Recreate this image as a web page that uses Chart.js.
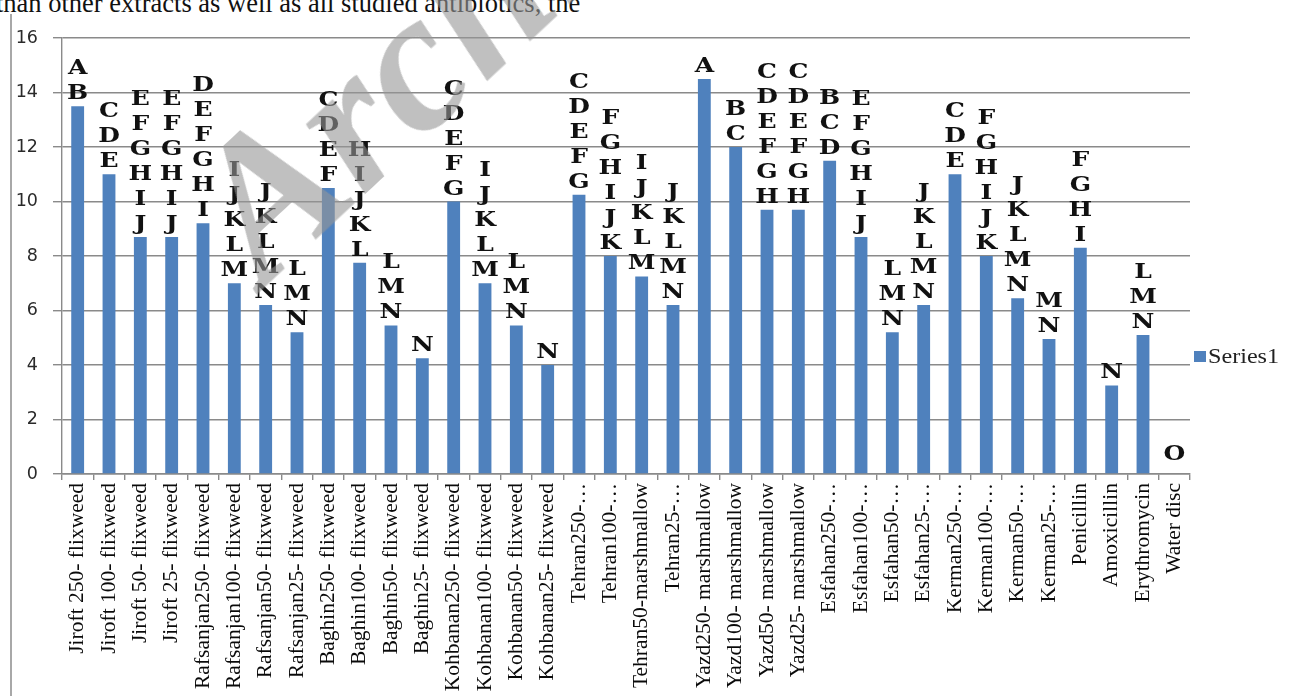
<!DOCTYPE html>
<html><head><meta charset="utf-8">
<script src="https://cdn.jsdelivr.net/npm/chart.js@4"></script>
<style>
html,body{margin:0;padding:0;background:#fff;overflow:hidden;width:1300px;height:696px;}
#wrap{position:relative;width:1300px;height:696px;overflow:hidden;}
#c{position:absolute;left:0;top:0;}
#toptext{position:absolute;left:-4px;top:-10px;font:26.5px "Liberation Serif";white-space:nowrap;color:#111;line-height:26px;}
#frame{position:absolute;left:10px;top:14px;width:2px;height:690px;background:#a8a8a8;}
#wm{position:absolute;left:272px;top:118px;font:italic bold 200px "Liberation Serif";line-height:200px;white-space:nowrap;color:rgba(150,150,150,0.6);transform-origin:0 178px;transform:rotate(-43deg);}
</style></head>
<body><div id="wrap">
<div id="toptext">than other extracts as well as all studied antibiotics, the</div>
<canvas id="c" width="1300" height="696"></canvas>
<div id="frame"></div>
<div id="wm">Archive of SID</div>
</div>
<script>
const categories = [
  "Jiroft 250- flixweed","Jiroft 100- flixweed","Jiroft 50- flixweed","Jiroft 25- flixweed",
  "Rafsanjan250- flixweed","Rafsanjan100- flixweed","Rafsanjan50- flixweed","Rafsanjan25- flixweed",
  "Baghin250- flixweed","Baghin100- flixweed","Baghin50- flixweed","Baghin25- flixweed",
  "Kohbanan250- flixweed","Kohbanan100- flixweed","Kohbanan50- flixweed","Kohbanan25- flixweed",
  "Tehran250-\u2026","Tehran100-\u2026","Tehran50-marshmallow","Tehran25-\u2026",
  "Yazd250- marshmallow","Yazd100- marshmallow","Yazd50- marshmallow","Yazd25- marshmallow",
  "Esfahan250-\u2026","Esfahan100-\u2026","Esfahan50-\u2026","Esfahan25-\u2026",
  "Kerman250-\u2026","Kerman100-\u2026","Kerman50-\u2026","Kerman25-\u2026",
  "Penicillin","Amoxicillin","Erythromycin","Water disc"
];
const series1Values = [
  13.5, 11.0, 8.7, 8.7,
  9.2, 7.0, 6.2, 5.2,
  10.5, 7.75, 5.45, 4.25,
  10.0, 7.0, 5.45, 4.0,
  10.25, 8.0, 7.25, 6.2,
  14.5, 12.0, 9.7, 9.7,
  11.5, 8.7, 5.2, 6.2,
  11.0, 8.0, 6.45, 4.95,
  8.3, 3.25, 5.1, 0
];
const groupLetters = [
  "AB","CDE","EFGHIJ","EFGHIJ",
  "DEFGHI","IJKLM","JKLMN","LMN",
  "CDEF","HIJKL","LMN","N",
  "CDEFG","IJKLM","LMN","N",
  "CDEFG","FGHIJK","IJKLM","JKLMN",
  "A","BC","CDEFGH","CDEFGH",
  "BCD","EFGHIJ","LMN","JKLMN",
  "CDE","FGHIJK","JKLMN","MN",
  "FGHI","N","LMN","O"
];
const yTickValues = [0, 2, 4, 6, 8, 10, 12, 14, 16];
const seriesName = "Series1";

const barColor = '#4F81BD';
const gridColor = '#8a8a8a';

const letterPlugin = {
  id: 'groupLetters',
  afterDatasetsDraw(chart) {
    const ctx = chart.ctx;
    const meta = chart.getDatasetMeta(0);
    ctx.save();
    ctx.font = 'bold 20px "DejaVu Serif"';
    ctx.fillStyle = '#111';
    ctx.textAlign = 'center';
    ctx.textBaseline = 'alphabetic';
    meta.data.forEach((bar, i) => {
      const s = groupLetters[i];
      const n = s.length;
      const base = series1Values[i] === 0 ? bar.y - 14 : bar.y - 7;
      for (let j = 0; j < n; j++) {
        const y = base - (n - 1 - j) * 25;
        ctx.save();
        ctx.translate(bar.x, y);
        ctx.scale(1.25, 1);
        ctx.fillText(s[j], 0, 0);
        ctx.restore();
      }
    });
    ctx.restore();
  }
};

const legendPlugin = {
  id: 'sideLegend',
  afterDraw(chart) {
    const ctx = chart.ctx;
    const ds = chart.data.datasets[0];
    const x = chart.chartArea.right + 4;
    const yc = 357;
    ctx.save();
    ctx.fillStyle = ds.backgroundColor;
    ctx.fillRect(x, yc - 6, 12, 11);
    ctx.font = '21px "Liberation Serif"';
    ctx.fillStyle = '#222';
    ctx.textBaseline = 'middle';
    ctx.textAlign = 'left';
    ctx.save();
    ctx.translate(x + 14, yc);
    ctx.scale(1.15, 1);
    ctx.fillText(ds.label, 0, 0);
    ctx.restore();
    ctx.restore();
  }
};

new Chart(document.getElementById('c'), {
  type: 'bar',
  data: {
    labels: categories,
    datasets: [{
      label: seriesName,
      data: series1Values,
      backgroundColor: barColor,
      borderWidth: 0,
      barPercentage: 0.41,
      categoryPercentage: 1.0
    }]
  },
  options: {
    responsive: false,
    animation: false,
    devicePixelRatio: 1,
    layout: { padding: { left: 0, right: 110, top: 38, bottom: 0 } },
    plugins: { legend: { display: false }, tooltip: { enabled: false } },
    scales: {
      y: {
        min: 0, max: 16,
        afterBuildTicks(scale) { scale.ticks = yTickValues.map(v => ({ value: v })); },
        afterFit(scale) { scale.width = 62; },
        ticks: { font: { family: 'DejaVu Sans', size: 17.5 }, color: '#2a2a2a', padding: 15 },
        grid: { color: gridColor, lineWidth: 1.4, tickLength: 9 },
        border: { display: true, color: gridColor, width: 1.4 }
      },
      x: {
        afterFit(scale) { scale.height = 222; },
        ticks: {
          autoSkip: false, minRotation: 90, maxRotation: 90,
          font: { family: 'Liberation Serif', size: 21.5 }, color: '#0a0a0a', padding: 3
        },
        grid: { offset: true, drawOnChartArea: false, color: gridColor, tickLength: 6, lineWidth: 1.4 },
        border: { display: true, color: gridColor, width: 1.4 }
      }
    }
  },
  plugins: [letterPlugin, legendPlugin]
});
</script>
</body></html>
